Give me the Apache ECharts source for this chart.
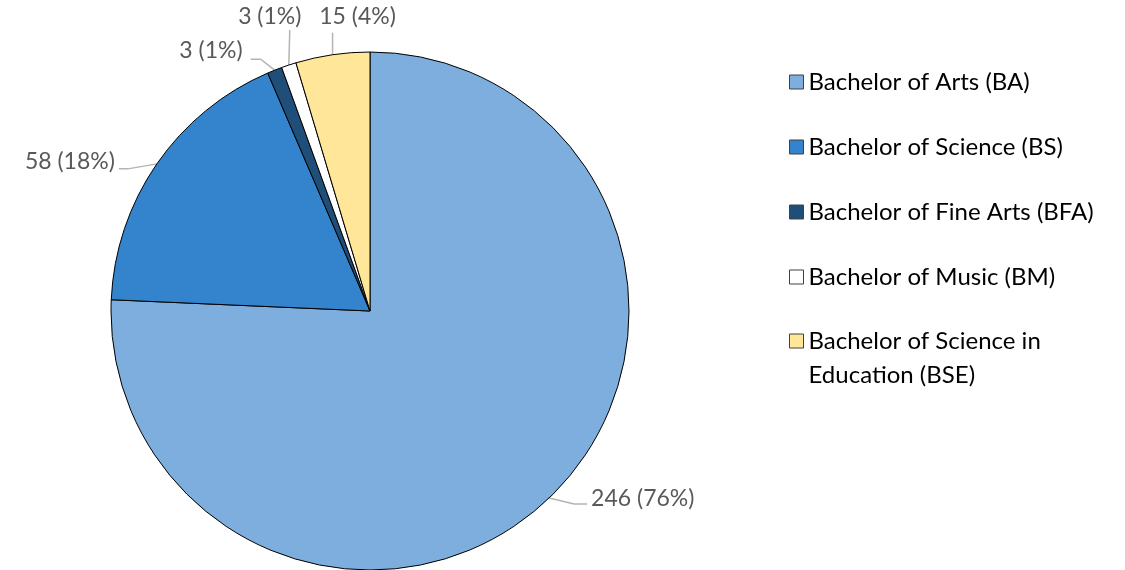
<!DOCTYPE html>
<html>
<head>
<meta charset="utf-8">
<script src="https://cdn.jsdelivr.net/npm/echarts@6/dist/echarts.min.js"></script>
<style>
  html, body { margin: 0; padding: 0; background: #fff; }
  #chart { width: 1125px; height: 570px; }
</style>
</head>
<body>
<div id="chart"></div>
<script>
// Degree programs and counts
const programs = [
  'Bachelor of Arts (BA)',
  'Bachelor of Science (BS)',
  'Bachelor of Fine Arts (BFA)',
  'Bachelor of Music (BM)',
  'Bachelor of Science in\nEducation (BSE)'
];
const counts = [246, 58, 3, 3, 15];
const percentLabels = ['76%', '18%', '1%', '1%', '4%'];
const sliceColors = ['#7DAEDD', '#3483CD', '#1F4E79', '#FFFFFF', '#FFE699'];

const FONT = 'Lato, "Open Sans", sans-serif';

// Leader-line shapes per slice, as offsets from the point where the
// line leaves the pie edge: bend points, then label anchor and alignment.
const leaderStyles = [
  { bends: [[25, 6], [38, 6]], label: [42, 0], align: 'left' },
  { bends: [[-29, 5], [-38, 5]], label: [-42, -2], align: 'right' },
  { bends: [[-14, -11], [-24, -11]], label: [-32, -20], align: 'right' },
  { bends: [[1, -35]], label: [-19, -48], align: 'center' },
  { bends: [[0, -22]], label: [25, -38], align: 'center' }
];

const chart = echarts.init(document.getElementById('chart'), null, { renderer: 'canvas' });

const pieData = programs.map((name, i) => ({
  name: name,
  value: counts[i],
  itemStyle: { color: sliceColors[i] }
}));

const legendText = {
  fontFamily: FONT,
  fontSize: 24,
  lineHeight: 34,
  color: '#000000'
};

const legendBase = {
  orient: 'vertical',
  left: 789,
  padding: 0,
  itemWidth: 14,
  itemHeight: 14,
  itemGap: 31,
  icon: 'rect',
  selectedMode: false,
  itemStyle: { borderColor: '#404040', borderWidth: 1 },
  textStyle: legendText
};

chart.setOption({
  animation: false,
  backgroundColor: '#ffffff',
  legend: [
    Object.assign({}, legendBase, {
      top: 65,
      data: programs.slice(0, 4)
    }),
    // wrapped entry: a leading blank line keeps its first line level with the swatch
    Object.assign({}, legendBase, {
      top: 290,
      data: programs.slice(4),
      formatter: (name) => '\n' + name
    })
  ],
  series: [{
    type: 'pie',
    center: [370, 311],
    radius: [0, 259],
    startAngle: 90,
    clockwise: true,
    avoidLabelOverlap: false,
    itemStyle: { borderColor: '#000000', borderWidth: 1 },
    label: {
      show: true,
      position: 'outside',
      fontFamily: FONT,
      fontSize: 23,
      color: '#595959',
      formatter: (p) => p.value + ' (' + percentLabels[p.dataIndex] + ')'
    },
    labelLine: {
      show: true,
      length: 10,
      length2: 10,
      lineStyle: { color: '#B4B4B4', width: 1.5 }
    },
    labelLayout: (params) => {
      const pts = params.labelLinePoints;
      const s = leaderStyles[params.dataIndex];
      if (!pts || !s) return {};
      const e = pts[0];
      const line = [[e[0], e[1]]].concat(s.bends.map(b => [e[0] + b[0], e[1] + b[1]]));
      return {
        x: e[0] + s.label[0],
        y: e[1] + s.label[1],
        align: s.align,
        verticalAlign: 'middle',
        labelLinePoints: line
      };
    },
    emphasis: { disabled: true },
    data: pieData
  }]
});
</script>
</body>
</html>
